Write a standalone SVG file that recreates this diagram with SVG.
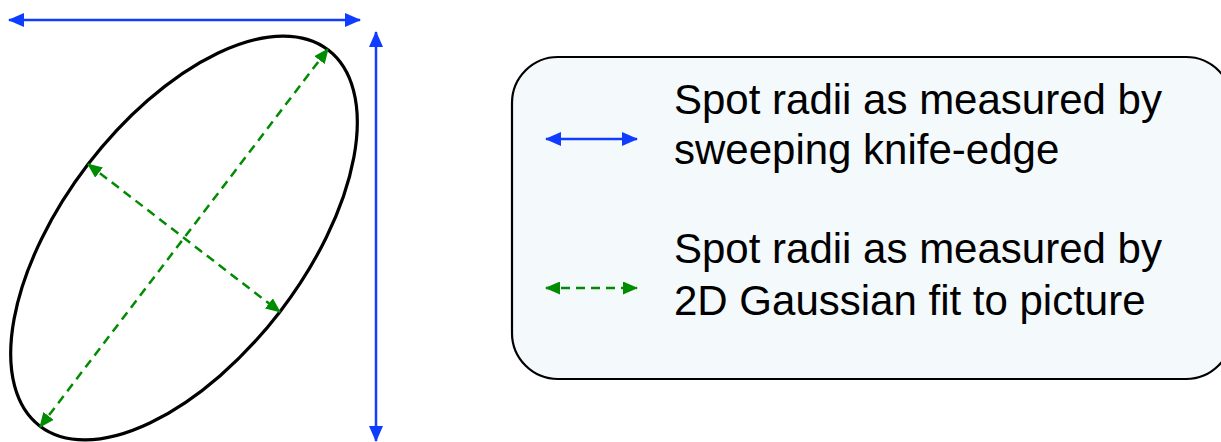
<svg xmlns="http://www.w3.org/2000/svg" width="1221" height="442" viewBox="0 0 1221 442">
  <style>
    .knife { stroke: #0f3cff; stroke-width: 2.5; fill: none; }
    .fit { stroke: #008c00; stroke-width: 2.5; fill: none; stroke-dasharray: 9 6; }
    .spot { stroke: #000; stroke-width: 3.2; fill: none; }
    .legend-box { fill: #f4f9fc; stroke: #000; stroke-width: 2.2; }
    .label { font-family: "Liberation Sans", Arial, sans-serif; font-size: 42px; fill: #000; }
  </style>
  <defs>
    <marker id="head-blue" viewBox="0 0 16 14" refX="15" refY="7" markerWidth="16" markerHeight="14" markerUnits="userSpaceOnUse" orient="auto-start-reverse">
      <path d="M0,0 L16,7 L0,14 z" fill="#0f3cff"/>
    </marker>
    <marker id="head-green" viewBox="0 0 15 13" refX="14" refY="6.5" markerWidth="15" markerHeight="13" markerUnits="userSpaceOnUse" orient="auto-start-reverse">
      <path d="M0,0 L15,6.5 L0,13 z" fill="#008c00"/>
    </marker>
  </defs>

  <!-- beam spot -->
  <g id="spot">
    <ellipse class="spot" cx="184" cy="238" rx="237" ry="121" transform="rotate(-52.5 184 238)"/>
  </g>

  <!-- legend -->
  <g id="legend">
    <rect class="legend-box" x="512" y="57" width="720" height="322" rx="46" ry="46"/>
    <line class="knife" x1="546" y1="139" x2="637" y2="139" marker-start="url(#head-blue)" marker-end="url(#head-blue)"/>
    <text class="label" x="674" y="114">Spot radii as measured by</text>
    <text class="label" x="674" y="164">sweeping knife-edge</text>
    <line class="fit" x1="546" y1="288" x2="637" y2="288" marker-start="url(#head-green)" marker-end="url(#head-green)" stroke-dasharray="9 7"/>
    <text class="label" x="674" y="263">Spot radii as measured by</text>
    <text class="label" x="674" y="315">2D Gaussian fit to picture</text>
  </g>

  <!-- radius arrows -->
  <g id="connectors">
    <line class="knife" x1="9" y1="20" x2="360" y2="20" marker-start="url(#head-blue)" marker-end="url(#head-blue)"/>
    <line class="knife" x1="376" y1="32" x2="376" y2="441" marker-start="url(#head-blue)" marker-end="url(#head-blue)"/>
    <line class="fit" x1="40" y1="427" x2="328" y2="49" marker-start="url(#head-green)" marker-end="url(#head-green)"/>
    <line class="fit" x1="88" y1="164" x2="280" y2="312" marker-start="url(#head-green)" marker-end="url(#head-green)"/>
  </g>
</svg>
